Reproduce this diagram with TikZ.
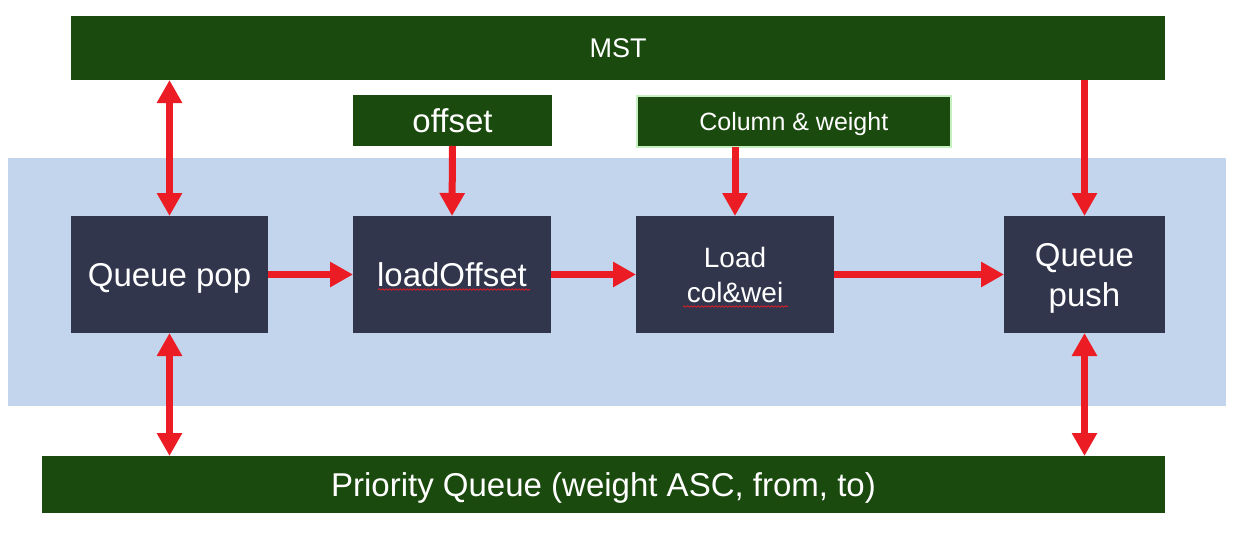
\documentclass[tikz,border=0pt]{standalone}
\usepackage{fontspec}
\setmainfont{Liberation Sans}
\usetikzlibrary{arrows.meta,decorations.pathmorphing,calc}
\definecolor{dgreen}{HTML}{1A4A0E}
\definecolor{navy}{HTML}{31364C}
\definecolor{lblue}{HTML}{C3D5ED}
\definecolor{redc}{HTML}{EC1C24}
\definecolor{lgreen}{HTML}{C6EFC0}
\begin{document}
\begin{tikzpicture}[x=1pt,y=-1pt,
  bar/.style={fill=dgreen, text=white, inner sep=0pt, outer sep=0pt, anchor=north west},
  proc/.style={fill=navy, text=white, inner sep=0pt, outer sep=0pt, anchor=north west, align=center},
  arr/.style={draw=redc, line width=7pt, -{Triangle[length=23pt,width=24pt]}},
  darr/.style={draw=redc, line width=7pt, {Triangle[length=23pt,width=24pt]}-{Triangle[length=23pt,width=24pt]}},
  squig/.style={draw=redc, line width=0.7pt, decorate, decoration={snake, amplitude=0.8pt, segment length=3.5pt}}
]
\useasboundingbox (0,0) rectangle (1233,533);
% background band
\fill[lblue] (8,158) rectangle (1226,406);
% bars
\node[bar, minimum width=1094pt, minimum height=64pt, text height=19.5pt, text depth=0pt, font=\fontsize{27}{32}\selectfont] (mst) at (71,16) {MST};
\node[bar, minimum width=1123pt, minimum height=57pt, text height=23.8pt, text depth=0pt, font=\fontsize{33}{40}\selectfont] (pq) at (42,456) {Priority Queue (weight ASC, from, to)};
\node[bar, minimum width=199pt, minimum height=51pt, text height=23.8pt, text depth=0pt, font=\fontsize{33}{40}\selectfont] (off) at (353,95) {offset};
\node[bar, draw=lgreen, line width=1.6pt, minimum width=314pt, minimum height=51pt, text height=18pt, text depth=0pt, font=\fontsize{25}{30}\selectfont] (cw) at (636.8,95.8) {Column \& weight};
% process boxes
\node[proc, minimum width=197pt, minimum height=117pt, text height=23.8pt, text depth=0pt, font=\fontsize{33}{40}\selectfont] (qp) at (71,216) {Queue pop};
\node[proc, minimum width=198pt, minimum height=117pt, text height=23.8pt, text depth=0pt, font=\fontsize{33}{40}\selectfont] (lo) at (353,216) {loadOffset};
\node[proc, minimum width=198pt, minimum height=117pt, text height=55.2pt, text depth=0pt, font=\fontsize{28}{35}\selectfont] (lc) at (636,216) {Load\\col\&wei};
\node[proc, minimum width=161pt, minimum height=117pt, text height=63.4pt, text depth=0pt, font=\fontsize{33}{39.6}\selectfont] (qs) at (1004,216) {Queue\\push};
% spell-check squiggles
\draw[squig] (378,289.5) -- (530,289.5);
\draw[squig] (683,306.5) -- (788,306.5);
% connectors
\draw[darr] (mst.south -| qp.north) -- (qp.north);
\draw[darr] (qp.south) -- (pq.north -| qp.south);
\draw[darr] (qs.south) -- (pq.north -| qs.south);
\draw[arr] (mst.south -| qs.north) -- (qs.north);
\draw[arr] (off.south) -- (lo.north);
\draw[arr] (cw.south -| lc.north) -- (lc.north);
\draw[arr] (qp.east) -- (lo.west);
\draw[arr] (lo.east) -- (lc.west);
\draw[arr] (lc.east) -- (qs.west);
\end{tikzpicture}
\end{document}
